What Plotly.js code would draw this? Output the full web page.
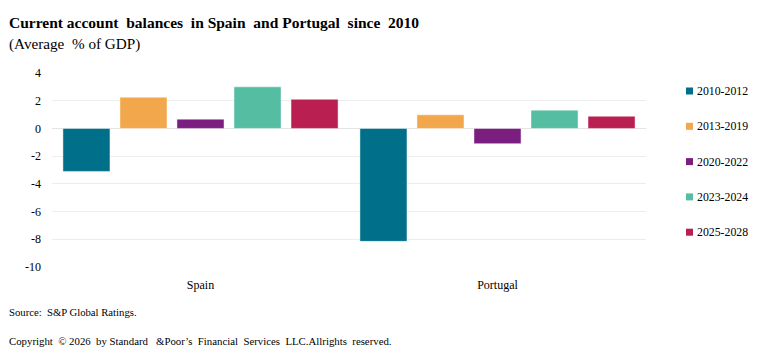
<!DOCTYPE html>
<html><head><meta charset="utf-8">
<script src="https://cdn.plot.ly/plotly-3.0.1.min.js"></script>
<style>body{margin:0;padding:0;background:#fff}#chart{width:777px;height:360px}</style>
</head><body><div id="chart"></div>
<script>
const categories = ["Spain", "Portugal"];
const periods = ["2010-2012", "2013-2019", "2020-2022", "2023-2024", "2025-2028"];
const v2010_2012 = [-3.1, -8.15];
const v2013_2019 = [2.25, 0.98];
const v2020_2022 = [0.67, -1.1];
const v2023_2024 = [3.0, 1.32];
const v2025_2028 = [2.1, 0.88];
const seriesValues = [v2010_2012, v2013_2019, v2020_2022, v2023_2024, v2025_2028];
const yTicks = [4, 2, 0, -2, -4, -6, -8, -10];
const colors = ["#006F8A", "#F2A74D", "#7A1F7F", "#55BDA2", "#BA1F52"];

const font = "Liberation Serif";
const W = 594, H = 194, L = 52, T = 73;
const traces = periods.map((p, i) => ({
  type: "bar", name: p, x: categories, y: seriesValues[i],
  marker: {color: colors[i], line: {color: "rgba(255,255,255,0.45)", width: 1}},
  showlegend: false, hoverinfo: "skip"
}));

const px = x => (x - L) / W;
const py = y => 1 - (y - T) / H;
const annotations = [
  {x: px(6.5), y: py(22), text: "<b>Current account  balances  in Spain  and Portugal  since  2010</b>", size: 15.5},
  {x: px(6.5), y: py(44), text: "(Average  % of GDP)", size: 15.2},
  {x: px(6.5), y: py(312), text: "Source:  S&P Global Ratings.", size: 10.7},
  {x: px(6.5), y: py(341), text: "Copyright  © 2026  by Standard   &Poor’s  Financial  Services  LLC.Allrights  reserved.", size: 10.8}
].map(a => ({xref: "paper", yref: "paper", x: a.x, y: a.y, xanchor: "left", yanchor: "middle",
  text: a.text, showarrow: false, font: {family: font, size: a.size, color: "#000"}}));

const shapes = [];
periods.forEach((p, i) => {
  const cy = 91 + i * 35.3;
  shapes.push({type: "rect", xref: "paper", yref: "paper",
    x0: px(686), x1: px(693), y0: py(cy - 3.5), y1: py(cy + 3.5),
    fillcolor: colors[i], line: {width: 0}});
  annotations.push({xref: "paper", yref: "paper", x: px(694.5), y: py(cy), xanchor: "left", yanchor: "middle",
    text: p, showarrow: false, font: {family: font, size: 11.8, color: "#000"}});
});

const layout = {
  width: 777, height: 360,
  margin: {l: 52, r: 131, t: 73, b: 93},
  paper_bgcolor: "#fff", plot_bgcolor: "#fff",
  font: {family: font, size: 12, color: "#000"},
  barmode: "group", bargap: 0.04, bargroupgap: 0.175,
  showlegend: false,
  xaxis: {type: "category", showgrid: false, zeroline: false, showline: false,
    ticks: "", tickfont: {family: font, size: 12}, ticklabelstandoff: 9,
    fixedrange: true},
  yaxis: {range: [-10, 4], tickvals: yTicks, ticktext: yTicks.map(String),
    showgrid: true, gridcolor: "#EDEDED", gridwidth: 1,
    zeroline: true, zerolinecolor: "#E4E4E4", zerolinewidth: 1,
    showline: false, ticks: "", ticklabelstandoff: 10,
    tickfont: {family: font, size: 12}, fixedrange: true},
  shapes: shapes,
  annotations: annotations
};
Plotly.newPlot("chart", traces, layout, {displayModeBar: false, staticPlot: true});
</script></body></html>
